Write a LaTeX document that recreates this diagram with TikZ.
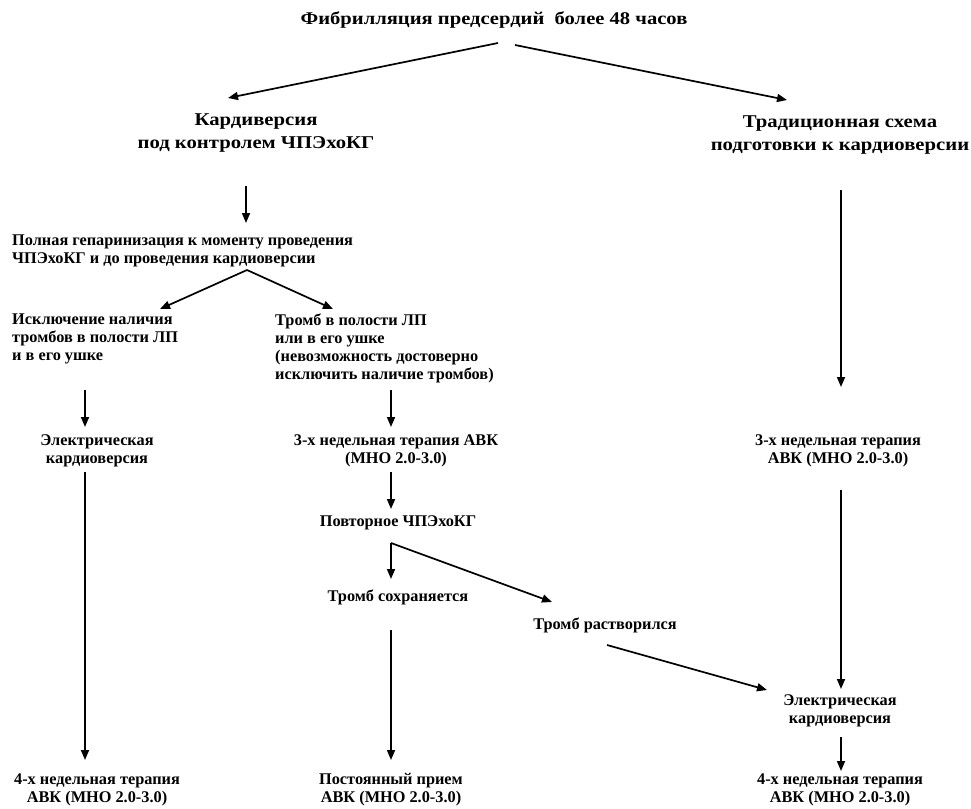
\documentclass[tikz,border=0pt]{standalone}
\usepackage{fontspec}
\setmainfont{Liberation Serif}
\newfontfamily\wideserif[FakeStretch=1.15]{Liberation Serif}
\usetikzlibrary{arrows.meta}
\begin{document}
\begin{tikzpicture}[x=1pt,y=-1pt,
  every node/.style={font=\bfseries\fontsize{16.3}{18}\selectfont, inner sep=0pt},
  ctr/.style={align=center},
  lft/.style={align=left, anchor=west},
  big/.style={font=\wideserif\bfseries\fontsize{18}{22.5}\selectfont},
  ttl/.style={font=\wideserif\bfseries\fontsize{17.9}{18}\selectfont},
  arr/.style={-{Triangle[length=10pt,width=8pt]}, line width=1.7pt}]
\useasboundingbox[fill=white] (0,0) rectangle (971,808);
% nodes
\node[ttl] (title) at (494,20) {Фибрилляция предсердий\ \ более 48 часов};
\node[big,ctr] (kard) at (256,133) {Кардиверсия\\под контролем ЧПЭхоКГ};
\node[big,ctr] (trad) at (840,135) {Традиционная схема\\подготовки к кардиоверсии};
\node[lft] (hep) at (12,251) {Полная гепаринизация к моменту проведения\\ЧПЭхоКГ и до проведения кардиоверсии};
\node[lft] (excl) at (12,339) {Исключение наличия\\тромбов в полости ЛП\\и в его ушке};
\node[lft] (tromb) at (275,348) {Тромб в полости ЛП\\или в его ушке\\(невозможность достоверно\\исключить наличие тромбов)};
\node[ctr] (el1) at (97,451) {Электрическая\\кардиоверсия};
\node[ctr] (t3a) at (396,451) {3-х недельная терапия АВК\\(МНО 2.0-3.0)};
\node[ctr] (rep) at (398,523) {Повторное ЧПЭхоКГ};
\node[ctr] (keep) at (398,597) {Тромб сохраняется};
\node[ctr] (diss) at (605,625) {Тромб растворился};
\node[ctr] (t3b) at (838,451) {3-х недельная терапия\\АВК (МНО 2.0-3.0)};
\node[ctr] (el2) at (840,711) {Электрическая\\кардиоверсия};
\node[ctr] (w4a) at (97,790) {4-х недельная терапия\\АВК (МНО 2.0-3.0)};
\node[ctr] (perm) at (391,790) {Постоянный прием\\АВК (МНО 2.0-3.0)};
\node[ctr] (w4b) at (840,790) {4-х недельная терапия\\АВК (МНО 2.0-3.0)};
% connector end points
\coordinate (tL) at (498,43);   \coordinate (kN) at (228,98);
\coordinate (tR) at (515,45);   \coordinate (trN) at (787,100);
\coordinate (kS) at (246,186);  \coordinate (hN) at (246,223);
\coordinate (trS) at (841,190); \coordinate (t3bN) at (841,387);
\coordinate (hS) at (247,270);  \coordinate (exN) at (160,309); \coordinate (trbN) at (333,309);
\coordinate (exS) at (85,390);  \coordinate (el1N) at (85,427);
\coordinate (trbS) at (391,390);\coordinate (t3aN) at (391,427);
\coordinate (el1S) at (85,472); \coordinate (w4aN) at (85,760);
\coordinate (t3aS) at (391,472);\coordinate (repN) at (391,509);
\coordinate (repS) at (391,543);\coordinate (keepN) at (391,579); \coordinate (dissN) at (552,602);
\coordinate (keepS) at (391,630);\coordinate (permN) at (391,760);
\coordinate (dissS) at (607,645);\coordinate (el2W) at (767,690);
\coordinate (t3bS) at (841,490);\coordinate (el2N) at (841,689);
\coordinate (el2S) at (841,737);\coordinate (w4bN) at (841,771);
% connectors
\draw[arr] (tL) -- (kN);
\draw[arr] (tR) -- (trN);
\draw[arr] (kS) -- (hN);
\draw[arr] (trS) -- (t3bN);
\draw[arr] (hS) -- (exN);
\draw[arr] (hS) -- (trbN);
\draw[arr] (exS) -- (el1N);
\draw[arr] (trbS) -- (t3aN);
\draw[arr] (el1S) -- (w4aN);
\draw[arr] (t3aS) -- (repN);
\draw[arr] (repS) -- (keepN);
\draw[arr] (repS) -- (dissN);
\draw[arr] (keepS) -- (permN);
\draw[arr] (dissS) -- (el2W);
\draw[arr] (t3bS) -- (el2N);
\draw[arr] (el2S) -- (w4bN);
\end{tikzpicture}
\end{document}
